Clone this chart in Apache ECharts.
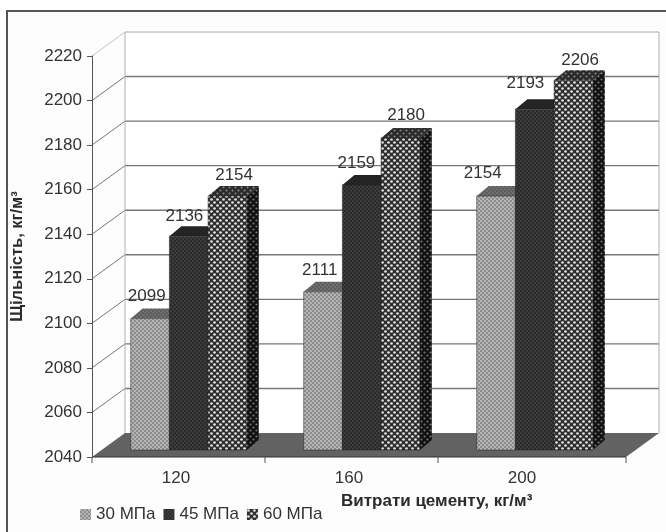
<!DOCTYPE html>
<html>
<head>
<meta charset="utf-8">
<style>
html, body { margin: 0; padding: 0; background: #fff; }
#chart { width: 666px; height: 532px; }
</style>
<script src="https://cdn.jsdelivr.net/npm/echarts@6/dist/echarts.min.js"></script>
</head>
<body>
<div id="chart"></div>
<script>
// дані
var categories = ['120', '160', '200'];
var seriesNames = ['30 МПа', '45 МПа', '60 МПа'];
var mpa30 = [2099, 2111, 2154];
var mpa45 = [2136, 2159, 2193];
var mpa60 = [2154, 2180, 2206];
var yTicks = [2040, 2060, 2080, 2100, 2120, 2140, 2160, 2180, 2200, 2220];

var FONT = '"Liberation Sans", Arial, sans-serif';
var TEXT = '#333333';

// псевдо-3D: зсув задньої стінки і глибина стовпчика
var WALL_DX = 33, WALL_DY = -24;
var BAR_DX = 12, BAR_DY = -10;
var BAR_W = 38.7, FLOOR_INSET = 7, GROUP_LEFT = 47.8;
var AXIS_EXTRA = 15;

// зсув підписів відносно лівого краю стовпчика
var labelShift = [[16, 16, 6], [15, 14, 10], [26, 25, 26]];
var labelRise = [[22, 22, 23], [20, 22, 26], [21, 23, 20]];

function dots(bg, dot, step, r) {
	var c = document.createElement('canvas');
	c.width = step * 2;
	c.height = step * 2;
	var g = c.getContext('2d');
	g.fillStyle = bg;
	g.fillRect(0, 0, c.width, c.height);
	g.fillStyle = dot;
	[[0.5, 0.5], [1.5, 1.5]].forEach(function (p) {
		g.beginPath();
		g.arc(p[0] * step, p[1] * step, r, 0, Math.PI * 2);
		g.fill();
	});
	return { image: c, repeat: 'repeat' };
}

var faces = [
	{ front: dots('#8c8c8c', '#c9c9c9', 2, 0.9), top: dots('#5e5e5e', '#8a8a8a', 2, 0.7), side: dots('#444', '#777', 2, 0.7) },
	{ front: dots('#2b2b2b', '#5c5c5c', 2, 0.7), top: dots('#222', '#3a3a3a', 2, 0.6), side: dots('#111', '#333', 2, 0.6) },
	{ front: dots('#2e2e2e', '#e4e4e4', 3, 1.35), top: dots('#2a2a2a', '#888', 3, 1.05), side: dots('#111', '#777', 3, 1.05) }
];

function barSeries(index, name, values) {
	return {
		name: name,
		type: 'custom',
		itemStyle: { color: faces[index].front },
		encode: { x: 0, y: 1 },
		data: values.map(function (v, i) { return [i, v]; }),
		renderItem: function (params, api) {
			var cat = api.value(0);
			var val = api.value(1);
			var top = api.coord([cat, val]);
			var base = api.coord([cat, 2040]);
			var x0 = top[0] - GROUP_LEFT + index * BAR_W;
			var x1 = x0 + BAR_W;
			var yt = top[1];
			var yb = base[1] - FLOOR_INSET;
			// стовпчик стоїть на підлозі, тому шкалу зсунуто на глибину
			yt -= FLOOR_INSET;
			var edge = '#222';
			return {
				type: 'group',
				children: [
					{ type: 'polygon', shape: { points: [[x1, yt], [x1 + BAR_DX, yt + BAR_DY], [x1 + BAR_DX, yb + BAR_DY], [x1, yb]] }, style: { fill: faces[index].side } },
					{ type: 'polygon', shape: { points: [[x0, yt], [x0 + BAR_DX, yt + BAR_DY], [x1 + BAR_DX, yt + BAR_DY], [x1, yt]] }, style: { fill: faces[index].top } },
					{ type: 'rect', shape: { x: x0, y: yt, width: BAR_W, height: yb - yt }, style: { fill: faces[index].front, stroke: edge, lineWidth: 0.5 } },
					{
						type: 'text', z2: 100,
						style: {
							x: x0 + labelShift[index][cat], y: yt - labelRise[index][cat],
							text: String(val), fill: TEXT, font: '17px ' + FONT,
							align: 'center', verticalAlign: 'middle'
						}
					}
				]
			};
		}
	};
}

// задня стінка, сітка, підлога
function backdropSeries() {
	return {
		type: 'custom',
		silent: true,
		z: 1,
		data: [[0, 2040]],
		encode: { x: 0, y: 1 },
		renderItem: function (params, api) {
			var band = api.size([1, 0])[0];
			var left = api.coord([0, 2040])[0] - band / 2;
			var yBase = api.coord([0, 2040])[1];
			var right = left + band * categories.length + AXIS_EXTRA;
			var kids = [];
			var bx0 = left + WALL_DX, bx1 = right + WALL_DX;
			var yTop = api.coord([0, 2220])[1] + WALL_DY;
			var light = '#c4c4c4', line = '#777';
			kids.push({ type: 'rect', shape: { x: bx0, y: yTop, width: bx1 - bx0, height: yBase + WALL_DY - yTop }, style: { fill: '#fff' } });
			yTicks.forEach(function (v) {
				var y = api.coord([0, v])[1];
				var c = v === 2220 ? light : line;
				if (v !== 2040) {
					kids.push({ type: 'line', shape: { x1: left, y1: y, x2: bx0, y2: y + WALL_DY }, style: { stroke: c, lineWidth: 1 } });
					kids.push({ type: 'line', shape: { x1: bx0, y1: y + WALL_DY, x2: bx1, y2: y + WALL_DY }, style: { stroke: c, lineWidth: 1.4 } });
				}
			});
			kids.push({ type: 'line', shape: { x1: bx0, y1: yTop, x2: bx0, y2: yBase + WALL_DY }, style: { stroke: '#b0b0b0', lineWidth: 1 } });
			kids.push({ type: 'line', shape: { x1: bx1, y1: yTop, x2: bx1, y2: yBase + WALL_DY }, style: { stroke: '#b0b0b0', lineWidth: 1 } });
			kids.push({ type: 'polygon', shape: { points: [[left, yBase], [right, yBase], [bx1, yBase + WALL_DY], [bx0, yBase + WALL_DY]] }, style: { fill: '#626262' } });
			kids.push({ type: 'line', shape: { x1: left, y1: yBase, x2: right, y2: yBase }, style: { stroke: '#333', lineWidth: 1.2 } });
			[left, left + band, left + band * 2, right].forEach(function (x) {
				kids.push({ type: 'line', shape: { x1: x, y1: yBase, x2: x, y2: yBase + 6 }, style: { stroke: '#555', lineWidth: 1 } });
			});
			return { type: 'group', children: kids };
		}
	};
}

var myChart = echarts.init(document.getElementById('chart'), null, { renderer: 'canvas' });

var option = {
	animation: false,
	backgroundColor: '#fff',
	graphic: [
		{
			type: 'rect', z: -1,
			shape: { x: 7, y: 11, width: 680, height: 540 },
			style: { fill: '#fdfdfd', stroke: '#555', lineWidth: 2 }
		},
		{
			type: 'text', left: 341, top: 493,
			style: { text: 'Витрати цементу, кг/м³', fill: '#2b2b2b', font: 'bold 17px ' + FONT }
		}
	],
	legend: {
		data: seriesNames,
		left: 80,
		top: 506,
		itemWidth: 11,
		itemHeight: 11,
		itemGap: 8,
		padding: 0,
		icon: 'rect',
		textStyle: { color: TEXT, fontFamily: FONT, fontSize: 17 }
	},
	grid: { left: 92, width: 519, top: 56, height: 401 },
	xAxis: {
		type: 'category',
		data: categories,
		axisLine: { show: false },
		axisTick: { show: false },
		axisLabel: { color: TEXT, fontFamily: FONT, fontSize: 17, margin: 13, padding: [0, 5, 0, 0] }
	},
	yAxis: {
		type: 'value',
		min: 2040,
		max: 2220,
		interval: 20,
		z: 3,
		name: 'Щільність, кг/м³',
		nameLocation: 'middle',
		nameGap: 66,
		nameTextStyle: { color: '#2b2b2b', fontFamily: FONT, fontWeight: 'bold', fontSize: 16.5 },
		axisLine: { show: true, lineStyle: { color: '#555', width: 1 } },
		axisTick: { show: true, length: 5, lineStyle: { color: '#555' } },
		axisLabel: {
			color: TEXT, fontFamily: FONT, fontSize: 17, margin: 10,
			formatter: function (v) { return String(v); }
		},
		splitLine: { show: false }
	},
	series: [
		backdropSeries(),
		barSeries(0, seriesNames[0], mpa30),
		barSeries(1, seriesNames[1], mpa45),
		barSeries(2, seriesNames[2], mpa60)
	]
};

myChart.setOption(option);
</script>
</body>
</html>
